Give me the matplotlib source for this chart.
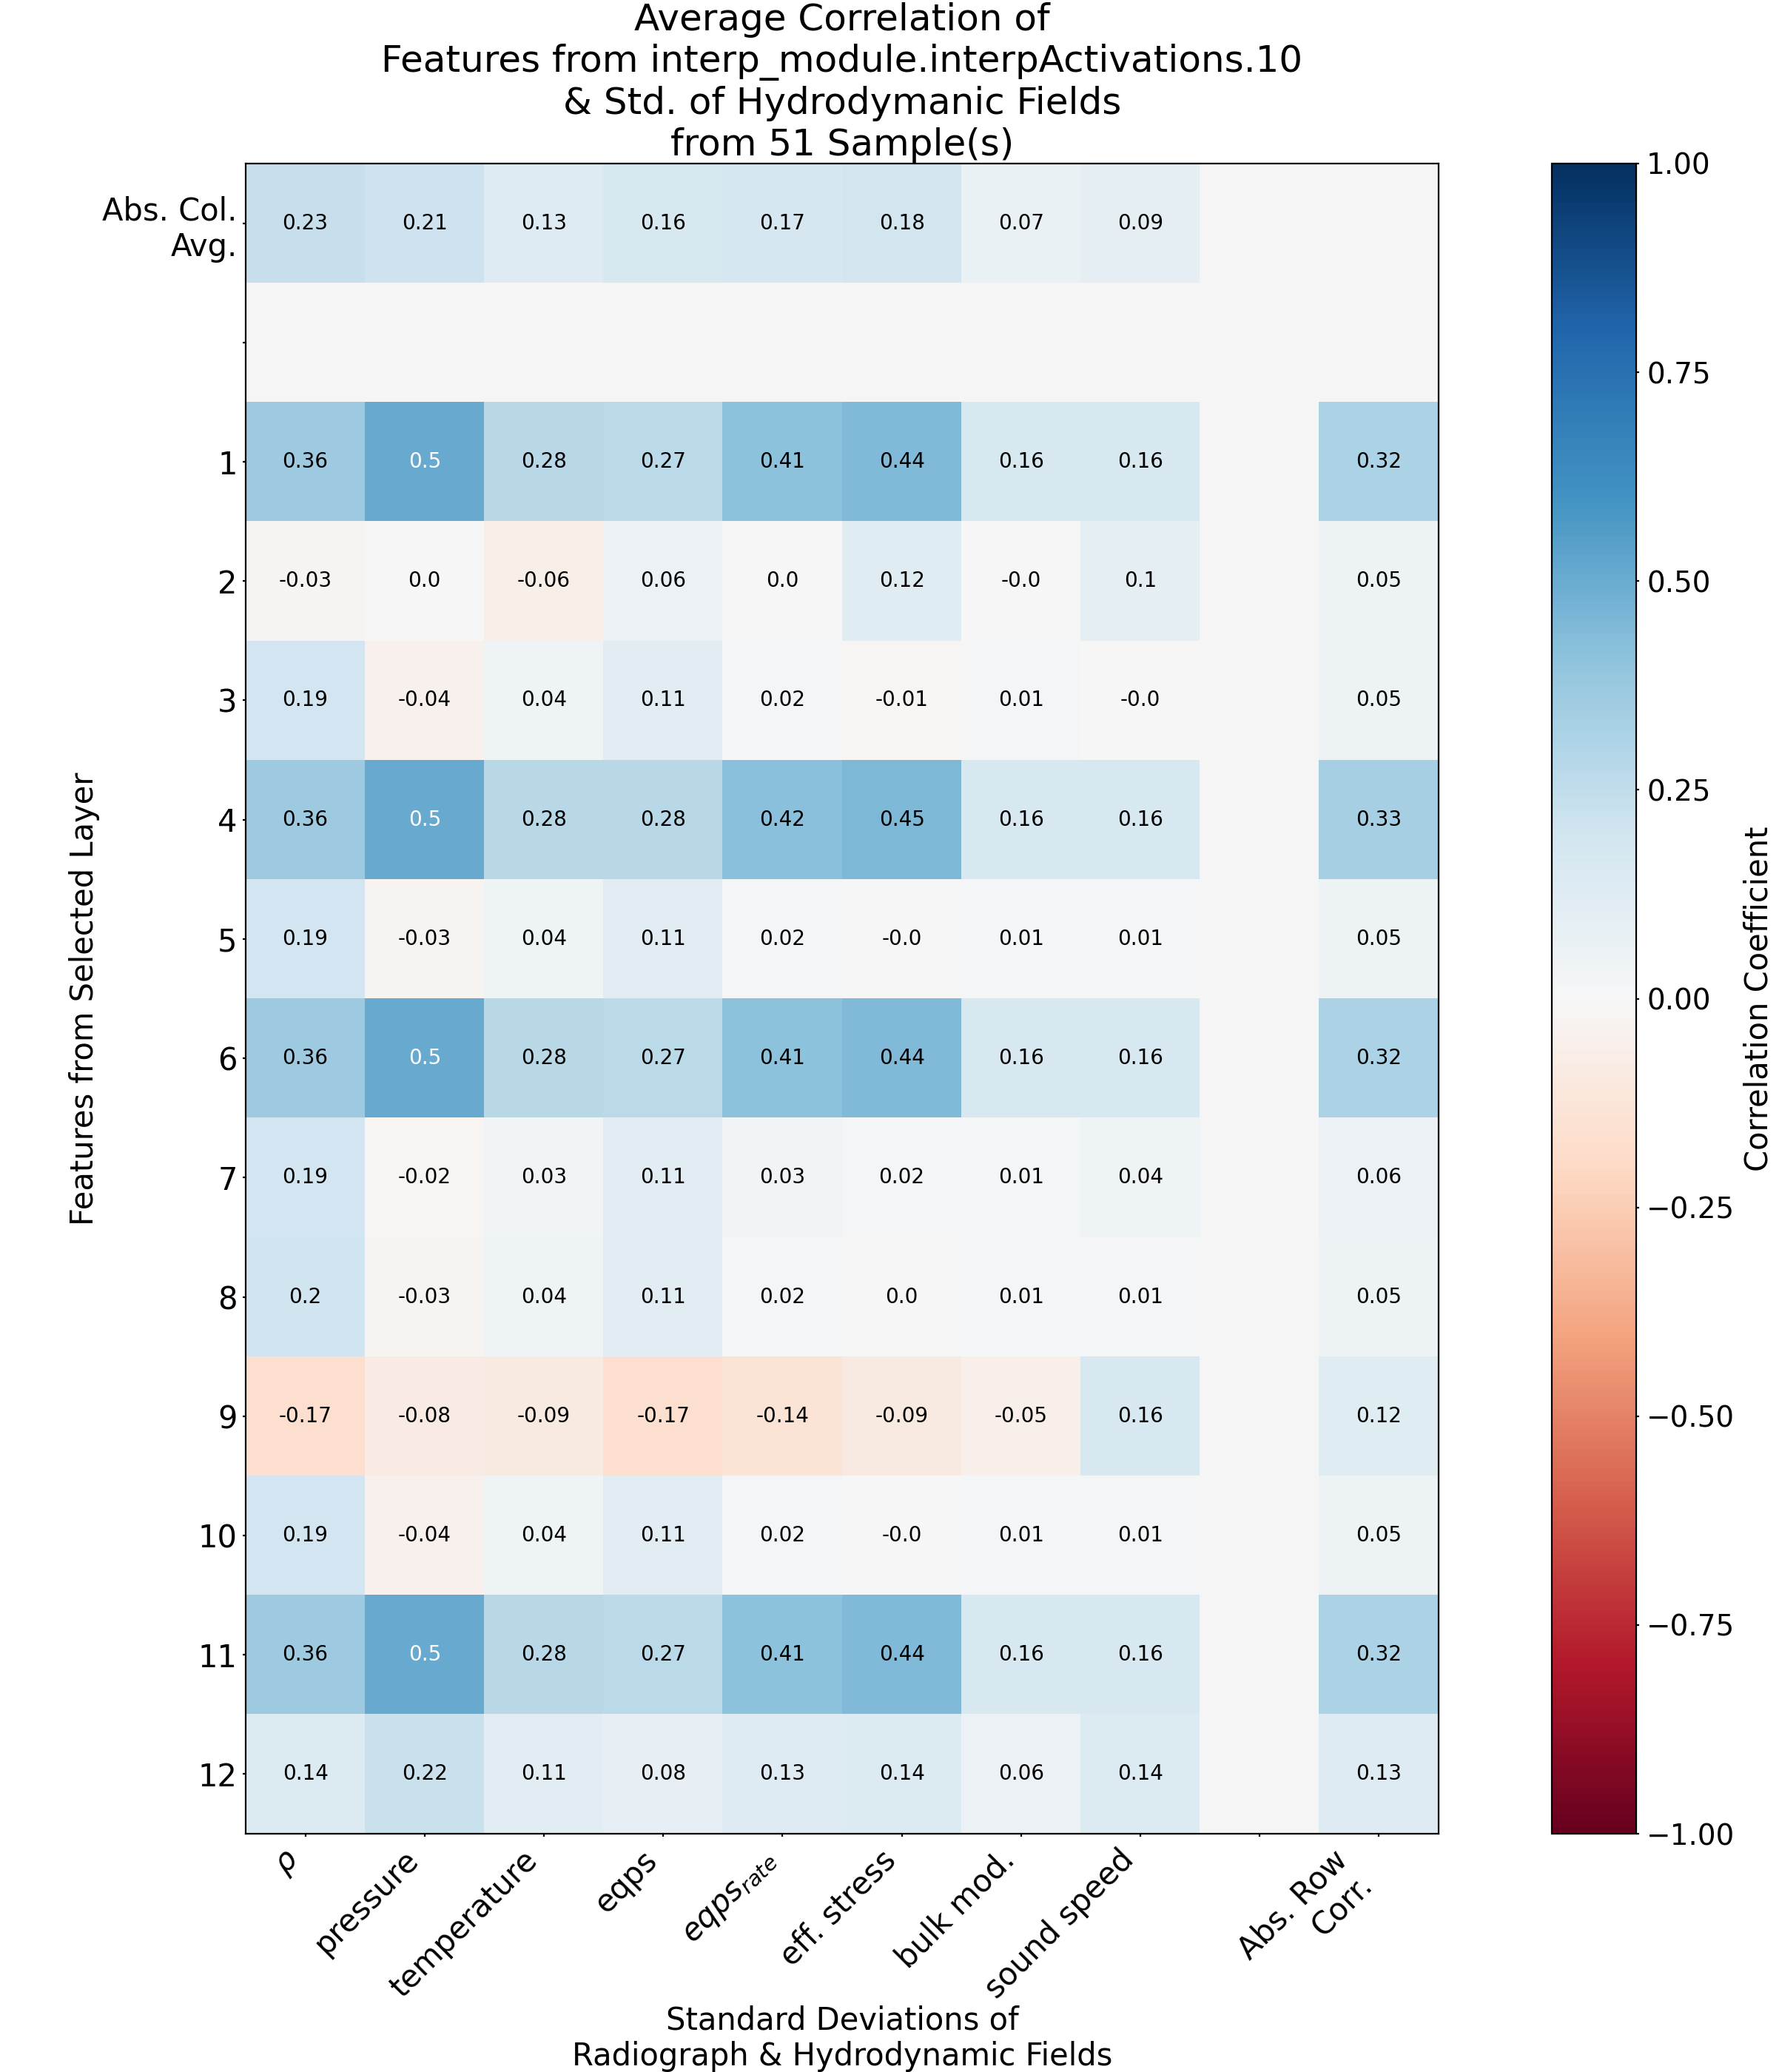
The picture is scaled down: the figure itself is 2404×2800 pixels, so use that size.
import numpy as np
import matplotlib
matplotlib.use("Agg")
import matplotlib.pyplot as plt

# ---- data ----
x_labels = [r"$\rho$", "pressure", "temperature", "eqps", r"$eqps_{rate}$",
            "eff. stress", "bulk mod.", "sound speed", "", "Abs. Row\nCorr."]
y_labels = ["Abs. Col.\nAvg.", "", "1", "2", "3", "4", "5", "6", "7", "8",
            "9", "10", "11", "12"]

nan = np.nan
abs_col_avg = [0.23, 0.21, 0.13, 0.16, 0.17, 0.18, 0.07, 0.09, nan, nan]
gap_row = [nan] * 10
feat_rows = [
    [0.36, 0.5, 0.28, 0.27, 0.41, 0.44, 0.16, 0.16, nan, 0.32],
    [-0.03, 0.0, -0.06, 0.06, 0.0, 0.12, -0.0, 0.1, nan, 0.05],
    [0.19, -0.04, 0.04, 0.11, 0.02, -0.01, 0.01, -0.0, nan, 0.05],
    [0.36, 0.5, 0.28, 0.28, 0.42, 0.45, 0.16, 0.16, nan, 0.33],
    [0.19, -0.03, 0.04, 0.11, 0.02, -0.0, 0.01, 0.01, nan, 0.05],
    [0.36, 0.5, 0.28, 0.27, 0.41, 0.44, 0.16, 0.16, nan, 0.32],
    [0.19, -0.02, 0.03, 0.11, 0.03, 0.02, 0.01, 0.04, nan, 0.06],
    [0.2, -0.03, 0.04, 0.11, 0.02, 0.0, 0.01, 0.01, nan, 0.05],
    [-0.17, -0.08, -0.09, -0.17, -0.14, -0.09, -0.05, 0.16, nan, 0.12],
    [0.19, -0.04, 0.04, 0.11, 0.02, -0.0, 0.01, 0.01, nan, 0.05],
    [0.36, 0.5, 0.28, 0.27, 0.41, 0.44, 0.16, 0.16, nan, 0.32],
    [0.14, 0.22, 0.11, 0.08, 0.13, 0.14, 0.06, 0.14, nan, 0.13],
]

data = np.array([abs_col_avg, gap_row] + feat_rows, dtype=float)
masked = np.ma.masked_invalid(data)

plt.rcParams["xtick.major.size"] = 1.6
plt.rcParams["ytick.major.size"] = 1.6

fig = plt.figure(figsize=(12.02, 14.0), dpi=200)
W, H = 2404, 2800
ax = fig.add_axes([332 / W, 1 - 2478 / H, (1944 - 332) / W, (2478 - 221) / H])
cax = fig.add_axes([2097 / W, 1 - 2478 / H, (2211 - 2097) / W, (2478 - 221) / H])

ax.set_facecolor("whitesmoke")
im = ax.imshow(masked, cmap="RdBu", vmin=-1, vmax=1, aspect="auto",
               interpolation="nearest")

nrows, ncols = data.shape
for i in range(nrows):
    for j in range(ncols):
        v = data[i, j]
        if np.isnan(v):
            continue
        color = "white" if abs(v) >= 0.5 else "black"
        ax.text(j, i, str(v), ha="center", va="center", fontsize=10,
                color=color)

ax.set_xticks(np.arange(ncols))
ax.set_xticklabels(x_labels, rotation=45, ha="right", fontsize=15)
ax.set_yticks(np.arange(nrows))
ax.set_yticklabels(y_labels, fontsize=15)
ax.tick_params(axis="y", pad=2.5)

ax.set_xlabel("Standard Deviations of\nRadiograph & Hydrodynamic Fields",
              fontsize=15, labelpad=0)
ax.set_ylabel("Features from Selected Layer", fontsize=15, labelpad=1)
ax.set_title("Average Correlation of\nFeatures from interp_module.interpActivations.10\n"
             "& Std. of Hydrodymanic Fields\nfrom 51 Sample(s)", fontsize=18,
             pad=4)

cb = fig.colorbar(im, cax=cax)
cb.ax.tick_params(labelsize=14, length=1.6)
cb.set_label("Correlation Coefficient", fontsize=15)

fig.savefig("out.png", dpi=200)
